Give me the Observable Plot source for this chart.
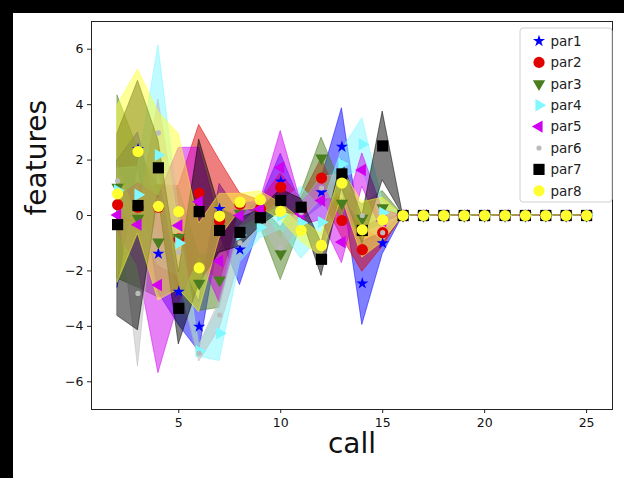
<!DOCTYPE html>
<html>
<head>
<meta charset="utf-8">
<script src="https://cdn.jsdelivr.net/npm/d3@7"></script>
<script src="https://cdn.jsdelivr.net/npm/@observablehq/plot@0.6"></script>
<style>
  html, body { margin: 0; padding: 0; background: #fff; }
  #wrap { position: relative; width: 624px; height: 478px; overflow: hidden; background: #fff; }
  #wrap svg { font-family: "DejaVu Sans", sans-serif; }
  .strip { position: absolute; background: #000; }
</style>
</head>
<body>
<div id="wrap"></div>
<script>
// ---- data ----
const calls = [2,3,4,5,6,7,8,9,10,11,12,13,14,15,16,17,18,19,20,21,22,23,24,25];
const seriesNames = ["par1","par2","par3","par4","par5","par6","par7","par8"];

const par1Mean = [-0.3, 2.4, -1.38, -2.75, -4.01, 0.24, -1.23, 0.1, 1.23, 0.1, 0.84, 2.48, -2.45, -1.0, 0,0,0,0,0,0,0,0,0,0];
const par1Std  = [2.3, 0.6, 1.4, 1.2, 0.9, 0.9, 1.28, 0.4, 1.0, 0.3, 0.5, 1.39, 1.5, 0.4, 0,0,0,0,0,0,0,0,0,0];
const par2Mean = [0.39, 0.3, 0.3, -0.84, 0.8, -0.2, 0.4, 0.24, 1.02, 0.2, 1.35, -0.18, -1.23, -0.62, 0,0,0,0,0,0,0,0,0,0];
const par2Std  = [0.5, 0.6, 0.8, 1.9, 2.47, 2.2, 0.4, 0.3, 0.5, 0.4, 0.7, 0.6, 0.8, 0.5, 0,0,0,0,0,0,0,0,0,0];
const par3Mean = [1.02, -0.1, -0.96, -0.8, -2.45, -2.33, 0.08, 0.0, -1.38, 0.2, 2.07, 0.44, -0.1, 0.28, 0,0,0,0,0,0,0,0,0,0];
const par3Std  = [3.3, 2.5, 2.0, 1.8, 1.0, 1.0, 0.4, 0.4, 0.95, 0.6, 0.74, 0.6, 0.5, 0.6, 0,0,0,0,0,0,0,0,0,0];
const par4Mean = [0.9, 0.75, 2.18, -0.99, -4.9, -4.25, -0.7, -0.42, 0.0, -0.26, -0.24, 1.86, 2.57, 0.1, 0,0,0,0,0,0,0,0,0,0];
const par4Std  = [0.8, 1.0, 3.96, 1.2, 0.2, 1.0, 1.0, 0.4, 0.5, 1.3, 0.5, 0.5, 0.94, 0.4, 0,0,0,0,0,0,0,0,0,0];
const par5Mean = [0.02, -0.33, -2.51, -0.36, 0.5, -1.64, 0.0, 0.24, 1.73, 0.05, 0.54, -0.96, 1.64, -0.2, 0,0,0,0,0,0,0,0,0,0];
const par5Std  = [0.6, 1.5, 3.18, 2.8, 1.95, 1.5, 0.4, 0.3, 1.32, 0.4, 0.7, 0.76, 0.6, 0.4, 0,0,0,0,0,0,0,0,0,0];
const par6Mean = [1.25, -2.81, 2.98, -1.32, -4.97, -3.59, -0.99, 0.0, -1.17, 0.1, 0.99, 1.1, 0.0, -0.62, 0,0,0,0,0,0,0,0,0,0];
const par6Std  = [0.5, 2.64, 1.2, 1.0, 0.3, 0.5, 0.6, 0.3, 0.3, 0.3, 0.4, 0.4, 0.3, 0.3, 0,0,0,0,0,0,0,0,0,0];
const par7Mean = [-0.33, 0.36, 1.72, -3.35, 0.14, -0.54, -0.61, -0.08, 0.54, 0.3, -1.58, 1.5, -0.54, 2.51, 0,0,0,0,0,0,0,0,0,0];
const par7Std  = [3.3, 4.5, 1.0, 1.3, 2.6, 0.8, 0.5, 0.3, 0.4, 0.3, 0.6, 0.5, 0.5, 1.24, 0,0,0,0,0,0,0,0,0,0];
const par8Mean = [0.78, 2.31, 0.33, 0.14, -1.89, -0.02, 0.48, 0.57, 0.15, -0.54, -1.08, 1.17, -0.52, -0.16, 0,0,0,0,0,0,0,0,0,0];
const par8Std  = [3.2, 2.96, 3.4, 2.8, 1.6, 0.8, 0.3, 0.3, 0.3, 0.4, 0.4, 0.5, 1.0, 0.8, 0,0,0,0,0,0,0,0,0,0];

const yTicks = [-6,-4,-2,0,2,4,6];
const xTicks = [5,10,15,20,25];

(function () {
// ---- styles ----
const styles = {
  par1: {color:"#0000ff", symbol:"star", rotate:0, r:3.8},
  par2: {color:"#e00000", symbol:"circle", rotate:0, r:5.6},
  par3: {color:"#4a7d1e", symbol:"triangle", rotate:180, r:4.6},
  par4: {color:"#80f8ff", symbol:"triangle", rotate:90, r:4.6},
  par5: {color:"#d000f0", symbol:"triangle", rotate:-90, r:4.6},
  par6: {color:"#bbbbbb", symbol:"circle", rotate:0, r:2.6},
  par7: {color:"#000000", symbol:"square", rotate:0, r:6.3},
  par8: {color:"#ffff30", symbol:"circle", rotate:0, r:5.6}
};

const means = [par1Mean,par2Mean,par3Mean,par4Mean,par5Mean,par6Mean,par7Mean,par8Mean];
const stds  = [par1Std,par2Std,par3Std,par4Std,par5Std,par6Std,par7Std,par8Std];

const tables = seriesNames.map((name, i) =>
  calls.map((c, j) => ({series: name, call: c, mean: means[i][j], lo: means[i][j] - stds[i][j], hi: means[i][j] + stds[i][j]}))
);

const bandMarks = tables.map((t, i) => {
  const s = styles[seriesNames[i]];
  return Plot.areaY(t, {x: "call", y1: "lo", y2: "hi", fill: s.color, fillOpacity: 0.5, stroke: s.color, strokeOpacity: 0.5, strokeWidth: 1});
});
const dotMarks = tables.map((t, i) => {
  const s = styles[seriesNames[i]];
  return Plot.dot(t, {x: "call", y: "mean", symbol: s.symbol, rotate: s.rotate, r: s.r, fill: s.color, stroke: "none"});
});

const W = 624, H = 478;
const chart = Plot.plot({
  width: W, height: H,
  marginLeft: 91, marginRight: 12, marginTop: 21, marginBottom: 69,
  style: {fontFamily: "DejaVu Sans, sans-serif", background: "#fff", color: "#222"},
  x: {domain: [0.72, 26.27]},
  y: {domain: [-7, 7]},
  marks: [
    ...bandMarks,
    ...dotMarks,
    Plot.frame({stroke: "#222", strokeWidth: 1}),
    Plot.axisX({ticks: xTicks, tickSize: 4, tickPadding: 5, fontSize: 12.5, label: null, stroke: "#222", fill: "#111"}),
    Plot.axisY({ticks: yTicks, tickSize: 4, tickPadding: 4, fontSize: 12.5, label: null, stroke: "#222", fill: "#111"}),
    Plot.text(["call"], {frameAnchor: "bottom", dy: 43, fontSize: 28, fill: "#111"}),
    Plot.text(["features"], {frameAnchor: "left", dx: -54, rotate: -90, fontSize: 28, fill: "#111"})
  ]
});

const wrap = document.getElementById("wrap");
wrap.appendChild(chart);

// ---- legend ----
const svg = d3.select(chart);
const lg = svg.append("g").attr("font-family", "DejaVu Sans, sans-serif");
const lx = 520, ly = 28, lw = 92, lh = 174, step = 21.4;
lg.append("rect").attr("x", lx).attr("y", ly).attr("width", lw).attr("height", lh)
  .attr("rx", 3).attr("fill", "#fff").attr("fill-opacity", 0.85).attr("stroke", "#d0d0d0");
const symMap = {star: d3.symbolStar, circle: d3.symbolCircle, triangle: d3.symbolTriangle, square: d3.symbolSquare};
seriesNames.forEach((name, i) => {
  const s = styles[name];
  const cy = ly + 13 + i * step;
  lg.append("path")
    .attr("d", d3.symbol(symMap[s.symbol], Math.PI * s.r * s.r)())
    .attr("transform", `translate(${lx + 19},${cy}) rotate(${s.rotate})`)
    .attr("fill", s.color);
  lg.append("text").attr("x", lx + 46).attr("y", cy).attr("dy", "0.35em")
    .attr("font-size", 13.5).attr("fill", "#222").text(name);
});

// dark edges of the photographed figure
const stripTop = document.createElement("div");
stripTop.className = "strip"; stripTop.style.left = "0px"; stripTop.style.top = "0px"; stripTop.style.width = W + "px"; stripTop.style.height = "13px";
const stripLeft = document.createElement("div");
stripLeft.className = "strip"; stripLeft.style.left = "0px"; stripLeft.style.top = "0px"; stripLeft.style.width = "13px"; stripLeft.style.height = H + "px";
wrap.appendChild(stripTop); wrap.appendChild(stripLeft);
})();
</script>
</body>
</html>
